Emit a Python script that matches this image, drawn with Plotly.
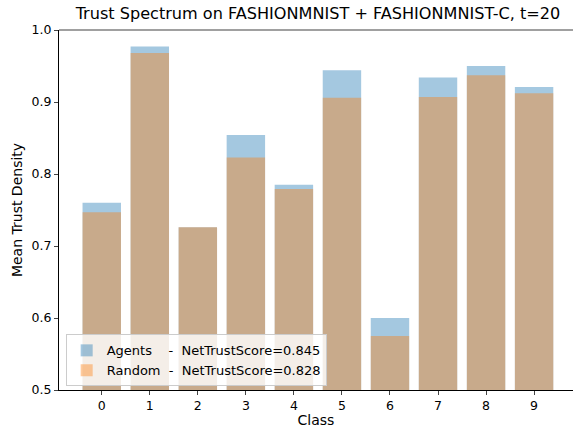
import plotly.graph_objects as go

classes = [0, 1, 2, 3, 4, 5, 6, 7, 8, 9]
agents = [0.760, 0.977, 0.726, 0.854, 0.785, 0.944, 0.600, 0.934, 0.950, 0.921]
random_ = [0.747, 0.968, 0.726, 0.823, 0.779, 0.906, 0.575, 0.907, 0.937, 0.912]
agents_score = 0.845
random_score = 0.828

FONT = "DejaVu Sans"

fig = go.Figure()
fig.add_trace(go.Bar(
    x=classes, y=agents, width=0.8,
    marker=dict(color="#1f77b4", line=dict(width=0)), opacity=0.4,
    name=f"Agents    -  NetTrustScore={agents_score:.3f}",
))
fig.add_trace(go.Bar(
    x=classes, y=random_, width=0.8,
    marker=dict(color="#ff7f0e", line=dict(width=0)), opacity=0.4,
    name=f"Random  -  NetTrustScore={random_score:.3f}",
))

fig.update_layout(
    width=573, height=428,
    barmode="overlay",
    plot_bgcolor="white", paper_bgcolor="white",
    margin=dict(l=59, r=0, t=30, b=38, autoexpand=False),
    font=dict(family=FONT, size=12, color="black"),
    title=dict(text="Trust Spectrum on FASHIONMNIST + FASHIONMNIST-C, t=20",
               xref="paper", x=(318 - 59) / (573 - 59), xanchor="center",
               yref="container", y=1 - 13 / 428, yanchor="middle",
               font=dict(size=16.1)),
    legend=dict(x=0.013, y=0.01, xanchor="left", yanchor="bottom",
                bgcolor="rgba(255,255,255,0.8)", bordercolor="#cccccc", borderwidth=1,
                font=dict(size=13), tracegroupgap=0, itemwidth=30),
    xaxis=dict(range=[-0.89, 9.81], tickvals=classes, ticks="outside", ticklen=4,
               tickfont=dict(size=12.5),
               showline=True, linecolor="black", linewidth=1, showgrid=False,
               zeroline=False, automargin=False, title=dict(text="Class", standoff=9)),
    yaxis=dict(range=[0.5, 1.0], dtick=0.1, tickformat=".1f", ticks="outside", ticklen=4,
               tickfont=dict(size=12.5),
               showline=True, linecolor="black", linewidth=1, showgrid=False,
               zeroline=False, automargin=False,
               title=dict(text="Mean Trust Density", standoff=5)),
)
fig.add_shape(type="line", xref="paper", yref="paper", x0=0, x1=1, y0=1, y1=1,
              line=dict(color="#808080", width=1.5))

# drop the page's default body margin so the figure sits at the window's corner
fig.write_html("out.html", config={"displayModeBar": False},
               post_script="document.body.style.margin='0';")
